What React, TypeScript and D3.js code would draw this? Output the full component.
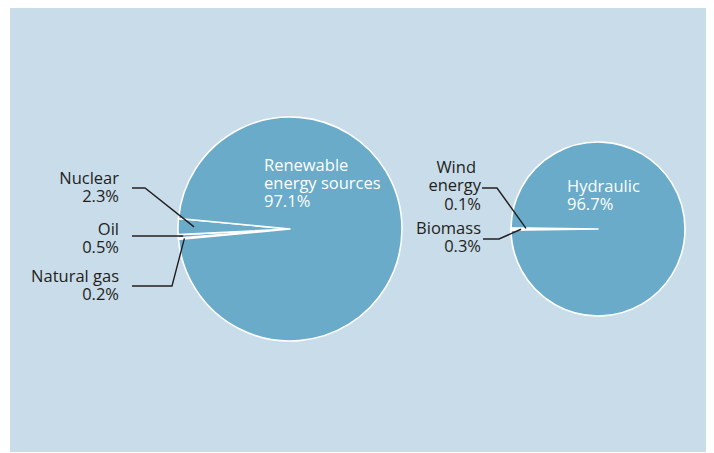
import React from "react";
import * as d3 from "d3";

// Data
const leftLabels = ["Natural gas", "Oil", "Nuclear", "Renewable energy sources"];
const leftValues = [0.2, 0.5, 2.3, 97.1];
const rightLabels = ["Biomass", "Wind energy", "Hydraulic"];
const rightValues = [0.3, 0.1, 96.7];

const W = 714;
const H = 453;
const BG = "#c9dcea";
const FILL = "#69abc9";
const INK = "#231f20";
const FONT = "'Open Sans', sans-serif";

type Slice = d3.PieArcDatum<number>;

function makePie(values: number[], wedgeCount: number) {
  const total = d3.sum(values);
  const wedge = d3.sum(values.slice(0, wedgeCount)) / total;
  const start = (3 * Math.PI) / 2 - wedge * Math.PI;
  return d3
    .pie<number>()
    .sort(null)
    .value((d) => d)
    .startAngle(start)
    .endAngle(start + 2 * Math.PI)(values);
}

function pointAt(cx: number, cy: number, angle: number, r: number) {
  return [cx + r * Math.sin(angle), cy - r * Math.cos(angle)];
}

export default function App() {
  const L = { cx: 290, cy: 229, r: 112 };
  const R = { cx: 598, cy: 229, r: 87 };
  const leftArcs = makePie(leftValues, 3);
  const rightArcs = makePie(rightValues, 2);
  const arcL = d3.arc<Slice>().innerRadius(0).outerRadius(L.r);
  const arcR = d3.arc<Slice>().innerRadius(0).outerRadius(R.r);
  const mid = (a: Slice) => (a.startAngle + a.endAngle) / 2;
  const line = d3.line();

  const fmt = (v: number) => `${v.toFixed(1)}%`;

  const leftLeaders = [
    { i: 2, x0: 132, y: 188, ex: 145, rr: 96 },
    { i: 1, x0: 132, y: 236, ex: 160, rr: 107 },
    { i: 0, x0: 132, y: 286, ex: 172, rr: 106 },
  ];
  const rightLeaders = [
    { i: 1, x0: 482, y: 188, ex: 497, rr: 72 },
    { i: 0, x0: 483, y: 239, ex: 499, rr: 77 },
  ];

  const textStyle = { fontFamily: FONT, fontSize: 16.5, fill: INK } as const;

  return (
    <svg
      width={W}
      height={H}
      style={{ position: "absolute", left: 0, top: 0 }}
      viewBox={`0 0 ${W} ${H}`}
    >
      <rect x={0} y={0} width={W} height={H} fill="#ffffff" />
      <rect x={10} y={8} width={696} height={444} fill={BG} />

      <g transform={`translate(${L.cx},${L.cy})`}>
        {leftArcs.map((a, k) => (
          <path key={k} d={arcL(a) || ""} fill={FILL} stroke="#ffffff" strokeWidth={1.6} strokeLinejoin="round" />
        ))}
      </g>
      <g transform={`translate(${R.cx},${R.cy})`}>
        {rightArcs.map((a, k) => (
          <path key={k} d={arcR(a) || ""} fill={FILL} stroke="#ffffff" strokeWidth={1.6} strokeLinejoin="round" />
        ))}
      </g>

      {leftLeaders.map((ld, k) => {
        const p = pointAt(L.cx, L.cy, mid(leftArcs[ld.i]), ld.rr);
        const pts: [number, number][] = [
          [ld.x0, ld.y],
          [ld.ex, ld.y],
          [p[0], p[1]],
        ];
        return <path key={"ll" + k} d={line(pts) || ""} fill="none" stroke={INK} strokeWidth={1.4} />;
      })}
      {rightLeaders.map((ld, k) => {
        const p = pointAt(R.cx, R.cy, mid(rightArcs[ld.i]), ld.rr);
        const pts: [number, number][] = [
          [ld.x0, ld.y],
          [ld.ex, ld.y],
          [p[0], p[1]],
        ];
        return <path key={"rl" + k} d={line(pts) || ""} fill="none" stroke={INK} strokeWidth={1.4} />;
      })}

      <g style={textStyle} textAnchor="end">
        <text x={119} y={184}>{leftLabels[2]}</text>
        <text x={119} y={202}>{fmt(leftValues[2])}</text>
        <text x={119} y={235}>{leftLabels[1]}</text>
        <text x={119} y={253}>{fmt(leftValues[1])}</text>
        <text x={119} y={282}>{leftLabels[0]}</text>
        <text x={119} y={300}>{fmt(leftValues[0])}</text>
      </g>
      <g style={{ ...textStyle, fill: "#ffffff" }}>
        <text x={264} y={171}>Renewable</text>
        <text x={264} y={189}>energy sources</text>
        <text x={264} y={207}>{fmt(leftValues[3])}</text>
      </g>

      <g style={textStyle} textAnchor="end">
        <text x={476} y={173}>{rightLabels[1].split(" ")[0]}</text>
        <text x={481} y={191}>{rightLabels[1].split(" ")[1]}</text>
        <text x={481} y={210}>{fmt(rightValues[1])}</text>
        <text x={481} y={234}>{rightLabels[0]}</text>
        <text x={481} y={252}>{fmt(rightValues[0])}</text>
      </g>
      <g style={{ ...textStyle, fill: "#ffffff" }}>
        <text x={567} y={192}>{rightLabels[2]}</text>
        <text x={567} y={210}>{fmt(rightValues[2])}</text>
      </g>
    </svg>
  );
}
